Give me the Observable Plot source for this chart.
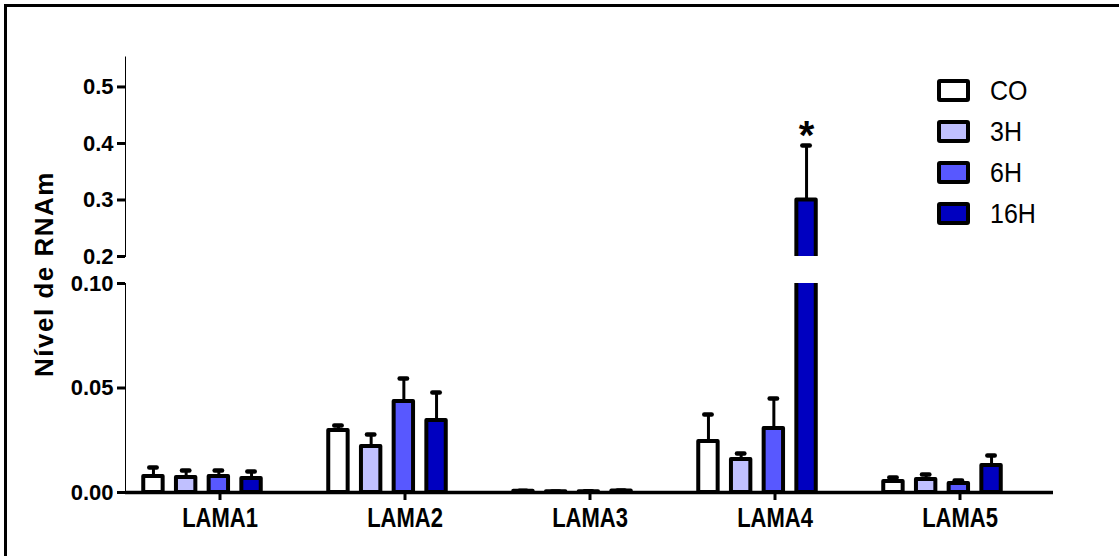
<!DOCTYPE html>
<html>
<head>
<meta charset="utf-8">
<script src="https://cdn.jsdelivr.net/npm/d3@7"></script>
<script src="https://cdn.jsdelivr.net/npm/@observablehq/plot@0.6"></script>
<style>
  body { margin: 0; background: #fff; }
  #wrap { position: relative; width: 1119px; height: 556px; overflow: hidden; background: #fff;
          font-family: "Liberation Sans", Arial, sans-serif; color: #000; }
  #wrap svg { position: absolute; left: 0; overflow: visible; }
  #wrap svg g[aria-label*="axis"] line, #wrap svg g[aria-label*="axis"] path { stroke-width: 3px; }
  .frame { position: absolute; background: #000; }
  .ytitle { position: absolute; left: 44px; top: 274px; transform: translate(-50%, -50%) rotate(-90deg);
            white-space: nowrap; font-weight: bold; font-size: 26px; letter-spacing: 1.5px; }
  .legend { position: absolute; left: 937px; top: 79px; }
  .legend .item { position: relative; height: 41px; }
  .legend .sw { position: absolute; left: 0; top: 0; width: 25px; height: 15px; border: 4px solid #000; border-radius: 3px; }
  .legend .lb { position: absolute; left: 53px; top: -4px; font-size: 25px; line-height: 30px; transform: scaleY(1.1); transform-origin: 0 50%; }
</style>
</head>
<body>
<div id="wrap"></div>
<script>
// ---- data ----
const categories = ["LAMA1", "LAMA2", "LAMA3", "LAMA4", "LAMA5"];
const series = ["CO", "3H", "6H", "16H"];
const colors = ["#ffffff", "#c0c0ff", "#5858ff", "#0000c0"];
const meanCO  = [0.0077, 0.0297, 0.0006, 0.0244, 0.0053];
const mean3H  = [0.0072, 0.0220, 0.0003, 0.0158, 0.0062];
const mean6H  = [0.0077, 0.0435, 0.0004, 0.0306, 0.0043];
const mean16H = [0.0067, 0.0344, 0.0007, 0.3000, 0.0129];
const semCO   = [0.0043, 0.0023, 0.0002, 0.0129, 0.0019];
const sem3H   = [0.0033, 0.0058, 0.0002, 0.0029, 0.0024];
const sem6H   = [0.0028, 0.0110, 0.0002, 0.0144, 0.0014];
const sem16H  = [0.0033, 0.0134, 0.0002, 0.0965, 0.0048];
const significance = [{category: "LAMA4", series: "16H", label: "*"}];
const yTicksUpper = [0.2, 0.3, 0.4, 0.5];
const yTicksLower = [0, 0.05, 0.10];
const yDomainUpper = [0.2, 0.553];
const yDomainLower = [0, 0.10];
const yTitle = "Nível de RNAm";

const means = [meanCO, mean3H, mean6H, mean16H];
const sems = [semCO, sem3H, sem6H, sem16H];
const data = [];
series.forEach((s, i) => categories.forEach((c, j) => data.push({category: c, series: s, mean: means[i][j], sem: sems[i][j]})));

// ---- layout ----
const W = 1119, mL = 125, mR = 66;
const bw = (W - mL - mR) / categories.length;
const barW = 20, capW = 8, barStep = 32.7, groupShift = -17.5;
const wrap = document.getElementById("wrap");

function makeChart({yDomain, yTicks, fmt, height, marginTop, marginBottom, lower, top}) {
  const marks = [];
  series.forEach((s, i) => {
    const rows = data.filter(d => d.series === s);
    const dx = groupShift + (i - 1.5) * barStep;
    marks.push(Plot.ruleX(rows, {x: "category", y1: "mean", y2: d => d.mean + d.sem, stroke: "black", strokeWidth: 3, dx, clip: true}));
    marks.push(Plot.tickY(rows, {x: "category", y: d => d.mean + d.sem, stroke: "black", strokeWidth: 4.5, strokeLinecap: "round",
      insetLeft: (bw - capW) / 2, insetRight: (bw - capW) / 2, dx, clip: true}));
    marks.push(Plot.barY(rows, {x: "category", y: "mean", fill: colors[i], stroke: "black", strokeWidth: 4, strokeLinejoin: "round",
      insetLeft: (bw - barW) / 2, insetRight: (bw - barW) / 2, dx, clip: true}));
    if (!lower) {
      const sig = significance.filter(d => d.series === s).map(d => ({...d, ...data.find(r => r.series === s && r.category === d.category)}));
      marks.push(Plot.text(sig, {x: "category", y: d => d.mean + d.sem, text: "label", dx, dy: -9, fontSize: 40, fontWeight: "bold", fill: "black"}));
    }
  });
  if (lower) marks.push(Plot.ruleY([0], {stroke: "black", strokeWidth: 3.5}));
  const svg = Plot.plot({
    width: W, height, marginLeft: mL, marginRight: mR, marginTop, marginBottom,
    style: {fontFamily: "'Liberation Sans', Arial, sans-serif", fontSize: "22px", fontWeight: "bold", color: "black", background: "transparent", overflow: "visible"},
    x: lower ? {domain: categories, padding: 0, tickSize: 8, tickPadding: 9, label: null} : {domain: categories, padding: 0, axis: null},
    y: {domain: yDomain, ticks: yTicks, tickFormat: d3.format(fmt), tickSize: 8, tickPadding: 4, label: null, line: true},
    marks
  });
  svg.style.top = top + "px";
  wrap.appendChild(svg);
  if (lower) {
    // the category labels in the reference are drawn vertically elongated
    svg.querySelectorAll('g[aria-label^="x-axis"] text').forEach(tx => {
      const b = tx.getBBox();
      const cy = b.y + b.height / 2;
      const prev = tx.getAttribute("transform") || "";
      tx.setAttribute("transform", `${prev} translate(0,${cy}) scale(1,1.28) translate(0,${-cy})`);
    });
  }
}

makeChart({yDomain: yDomainUpper, yTicks: yTicksUpper, fmt: ".1f", height: 262, marginTop: 56.5, marginBottom: 6, lower: false, top: 0});
makeChart({yDomain: yDomainLower, yTicks: yTicksLower, fmt: ".2f", height: 294, marginTop: 21, marginBottom: 64, lower: true, top: 262});

// frame lines (top and left edge of the figure)
const fTop = document.createElement("div"); fTop.className = "frame";
Object.assign(fTop.style, {left: "4px", top: "4px", width: "1115px", height: "3px"}); wrap.appendChild(fTop);
const fLeft = document.createElement("div"); fLeft.className = "frame";
Object.assign(fLeft.style, {left: "4px", top: "4px", width: "3px", height: "552px"}); wrap.appendChild(fLeft);

// y title
const t = document.createElement("div"); t.className = "ytitle"; t.textContent = yTitle; wrap.appendChild(t);

// legend
const leg = document.createElement("div"); leg.className = "legend";
series.forEach((s, i) => {
  const it = document.createElement("div"); it.className = "item";
  const sw = document.createElement("div"); sw.className = "sw"; sw.style.background = colors[i];
  const lb = document.createElement("div"); lb.className = "lb"; lb.textContent = s;
  it.appendChild(sw); it.appendChild(lb); leg.appendChild(it);
});
wrap.appendChild(leg);
</script>
</body>
</html>
